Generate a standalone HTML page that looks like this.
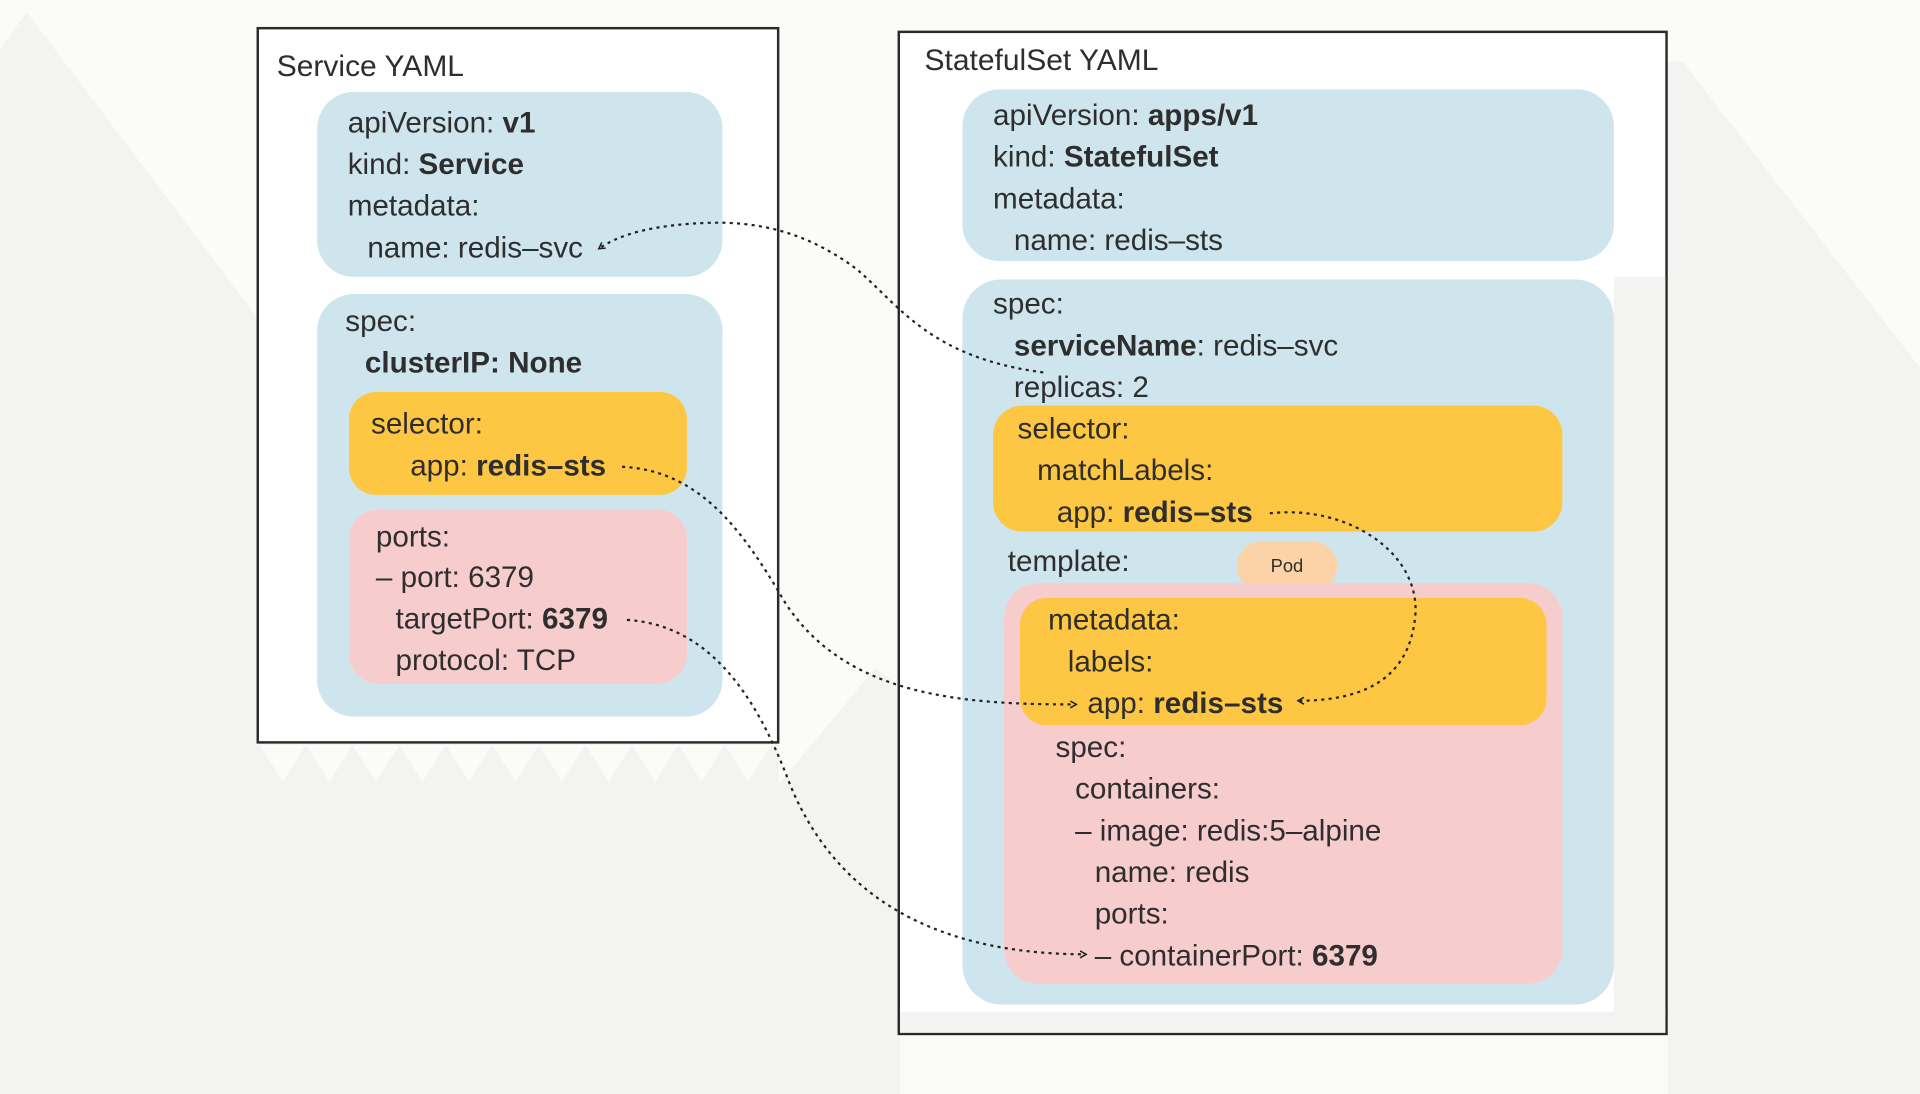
<!DOCTYPE html>
<html><head><meta charset="utf-8"><style>
html,body{margin:0;padding:0;background:#fbfbf8;}
svg{display:block;}
text{font-family:"Liberation Sans",sans-serif;fill:#2e2e2e;font-size:24.2px;}
.b{font-weight:bold;}
</style></head><body>
<svg width="1920" height="1094" viewBox="0 0 1568 893" preserveAspectRatio="none" xmlns="http://www.w3.org/2000/svg">
<defs>
<marker id="ar" viewBox="0 0 10 10" refX="8" refY="5" markerWidth="7" markerHeight="7" orient="auto-start-reverse" markerUnits="userSpaceOnUse">
<path d="M1 1 L8 5 L1 9" fill="none" stroke="#222" stroke-width="1.8"/>
</marker>
</defs>
<rect width="1568" height="893" fill="#fbfbf8"/>
<polygon points="0,40 22,10 212,262 212,893 0,893" fill="#f3f3f1"/>
<polygon points="212,606 636,606 636,893 212,893" fill="#f3f3f1"/>
<polygon points="636,640 715,545 735,560 735,893 636,893" fill="#f3f3f1"/>
<polygon points="1362,50 1374,50 1568,300 1568,893 1362,893" fill="#f3f3f1"/>
<polygon points="733,845 1362,845 1330,893 762,893" fill="#fbfbf8"/>
<g fill="#fbfbf8">
<polygon points="212,608 250,608 231,638"/><polygon points="250,608 288,608 269,638"/><polygon points="288,608 326,608 307,638"/><polygon points="326,608 364,608 345,638"/><polygon points="364,608 402,608 383,638"/><polygon points="402,608 440,608 421,638"/><polygon points="440,608 478,608 459,638"/><polygon points="478,608 516,608 497,638"/><polygon points="516,608 554,608 535,638"/><polygon points="554,608 592,608 573,638"/><polygon points="592,608 630,608 611,638"/>
</g>
<rect x="210.5" y="23" width="425" height="583" fill="#ffffff" stroke="#2a2a2a" stroke-width="2"/>
<text x="226" y="62" style="font-size:24.5px">Service YAML</text>
<rect x="259" y="75" width="331" height="151" rx="30" fill="#cfe5ee"/>
<text x="284" y="108">apiVersion: <tspan class="b">v1</tspan></text>
<text x="284" y="142">kind: <tspan class="b">Service</tspan></text>
<text x="284" y="176">metadata:</text>
<text x="300" y="210">name: redis–svc</text>
<rect x="259" y="240" width="331" height="345" rx="30" fill="#cfe5ee"/>
<text x="282" y="270">spec:</text>
<text x="298" y="304" class="b">clusterIP: None</text>
<rect x="285" y="320" width="276" height="84" rx="22" fill="#fdc743"/>
<text x="303" y="354">selector:</text>
<text x="335" y="388">app: <tspan class="b">redis–sts</tspan></text>
<rect x="285" y="416" width="276" height="142" rx="24" fill="#f7cccc"/>
<text x="307" y="446">ports:</text>
<text x="307" y="479">– port: 6379</text>
<text x="323" y="513">targetPort: <tspan class="b">6379</tspan></text>
<text x="323" y="547">protocol: TCP</text>
<rect x="734" y="26" width="627" height="818" fill="#ffffff" stroke="#2a2a2a" stroke-width="2"/>
<rect x="1318" y="226" width="42" height="602" fill="#f3f3f1"/>
<rect x="735" y="826" width="625" height="17" fill="#f3f3f1"/>
<text x="755" y="57" style="font-size:24.5px">StatefulSet YAML</text>
<rect x="786" y="73" width="532" height="140" rx="30" fill="#cfe5ee"/>
<text x="811" y="102">apiVersion: <tspan class="b">apps/v1</tspan></text>
<text x="811" y="136">kind: <tspan class="b">StatefulSet</tspan></text>
<text x="811" y="170">metadata:</text>
<text x="828" y="204">name: redis–sts</text>
<rect x="786" y="228" width="532" height="592" rx="32" fill="#cfe5ee"/>
<text x="811" y="256">spec:</text>
<text x="828" y="290"><tspan class="b">serviceName</tspan>: redis–svc</text>
<text x="828" y="324">replicas: 2</text>
<rect x="811" y="331" width="465" height="103" rx="24" fill="#fdc743"/>
<text x="831" y="358">selector:</text>
<text x="847" y="392">matchLabels:</text>
<text x="863" y="426">app: <tspan class="b">redis–sts</tspan></text>
<text x="823" y="466">template:</text>
<rect x="1010" y="442" width="82" height="40" rx="20" fill="#fbd3a6"/>
<text x="1051" y="467" text-anchor="middle" style="font-size:15px">Pod</text>
<rect x="820" y="476" width="456" height="327" rx="28" fill="#f7cccc"/>
<rect x="833" y="488" width="430" height="104" rx="22" fill="#fdc743"/>
<text x="856" y="514">metadata:</text>
<text x="872" y="548">labels:</text>
<text x="888" y="582">app: <tspan class="b">redis–sts</tspan></text>
<text x="862" y="618">spec:</text>
<text x="878" y="652">containers:</text>
<text x="878" y="686">– image: redis:5–alpine</text>
<text x="894" y="720">name: redis</text>
<text x="894" y="754">ports:</text>
<text x="894" y="788">– containerPort: <tspan class="b">6379</tspan></text>
<g fill="none" stroke="#222" stroke-width="1.8" stroke-dasharray="2.5 3.5">
<path d="M852 304 C760 292 735 250 700 220 C660 190 620 180 575 182 C530 184 505 192 489 203" marker-end="url(#ar)"/>
<path d="M508 381 C570 384 605 430 640 490 C690 570 790 575 879 575" marker-end="url(#ar)"/>
<path d="M1037 419 C1100 412 1158 450 1156 500 C1152 560 1105 572 1060 572" marker-end="url(#ar)"/>
<path d="M512 506 C575 510 615 560 645 640 C690 750 790 779 887 779" marker-end="url(#ar)"/>
</g>
</svg>
</body></html>
